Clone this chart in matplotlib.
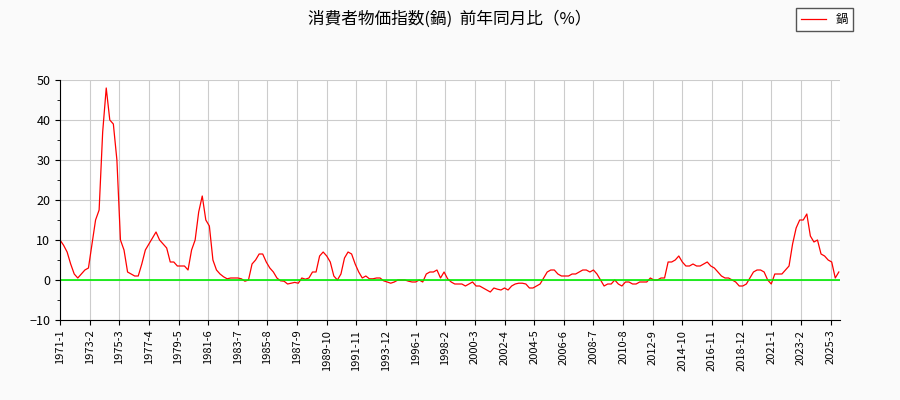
import numpy as np
import matplotlib.pyplot as plt

plt.rcParams['font.family'] = ['Noto Sans CJK JP', 'DejaVu Sans']

start_year = 1971
end_year = 2025
# quarterly values (Jan, Apr, Jul, Oct of each year)
values = [
    10, 8.7, 7, 4,   1.5, 0.5, 1.5, 2.5,   3, 9, 15, 17.5,   37, 48, 40, 39,
    30, 10, 7.5, 2,   1.5, 1, 1, 4,   7.5, 9, 10.5, 12,   10, 9, 8, 4.5,
    4.5, 3.5, 3.5, 3.5,   2.5, 7.5, 10, 17,   21, 15, 13.5, 5,   2.5, 1.5, 0.8, 0.3,
    0.5, 0.5, 0.5, 0.3,   -0.3, 0, 4, 5,   6.5, 6.5, 4.5, 3,   2, 0.5, -0.2, -0.3,
    -1, -0.8, -0.6, -0.8,   0.5, 0.2, 0.5, 2,   2, 6, 7, 6,   4.5, 1, 0, 1.5,
    5.5, 7, 6.5, 4,   2, 0.5, 1, 0.3,   0.3, 0.5, 0.5, -0.2,   -0.5, -0.8, -0.5, 0,
    0, 0, -0.3, -0.5,   -0.5, 0, -0.5, 1.5,   2, 2, 2.5, 0.5,   2, 0.3, -0.5, -1,
    -1, -1, -1.5, -1,   -0.5, -1.5, -1.5, -2,   -2.5, -3, -2, -2.3,   -2.5, -2, -2.5, -1.5,
    -1, -0.8, -0.8, -1,   -2, -2, -1.5, -1,   0.5, 2, 2.5, 2.5,   1.5, 1, 1, 1,
    1.5, 1.5, 2, 2.5,   2.5, 2, 2.5, 1.5,   0, -1.5, -1, -1,   0, -1, -1.5, -0.5,
    -0.5, -1, -1, -0.5,   -0.5, -0.5, 0.5, 0,   0, 0.5, 0.5, 4.5,   4.5, 5, 6, 4.5,
    3.5, 3.5, 4, 3.5,   3.5, 4, 4.5, 3.5,   3, 2, 1, 0.5,   0.5, 0, -0.5, -1.5,
    -1.5, -1, 0.5, 2,   2.5, 2.5, 2, 0,   -1, 1.5, 1.5, 1.5,   2.5, 3.5, 9, 13,
    15, 15, 16.5, 11,   9.5, 10, 6.5, 6,   5, 4.5, 0.5, 2,
]
month_idx = np.arange(len(values)) * 3
tick_idx = np.arange(0, 660, 25)
tick_labels = [f"{start_year + i // 12}-{i % 12 + 1}" for i in tick_idx]

fig = plt.figure(figsize=(9, 4), dpi=100, facecolor='#fafafa')
ax = fig.add_axes([60 / 900, 0.2, 780 / 900, 0.6])
ax.plot(month_idx, values, color='red', lw=0.9, label='鍋')
ax.axhline(0, color='#00ee00', lw=1.2)

ax.set_xlim(0, 658)
ax.set_ylim(-10, 50)
ax.set_yticks(np.arange(-10, 51, 10))
ax.set_yticks(np.arange(-10, 51, 5), minor=True)
ax.set_xticks(tick_idx)
ax.set_xticklabels(tick_labels, rotation=90, fontsize=8)
ax.tick_params(axis='y', labelsize=9)
ax.grid(True, color='#cccccc', lw=0.8)
for s in ['top', 'right']:
    ax.spines[s].set_visible(False)

fig.suptitle('消費者物価指数(鍋)  前年同月比（%）', y=0.975, fontsize=12)
fig.legend(loc='upper right', bbox_to_anchor=(0.955, 0.995), fontsize=9,
           fancybox=False, edgecolor='#555555', framealpha=1)

fig.savefig('out.png')
